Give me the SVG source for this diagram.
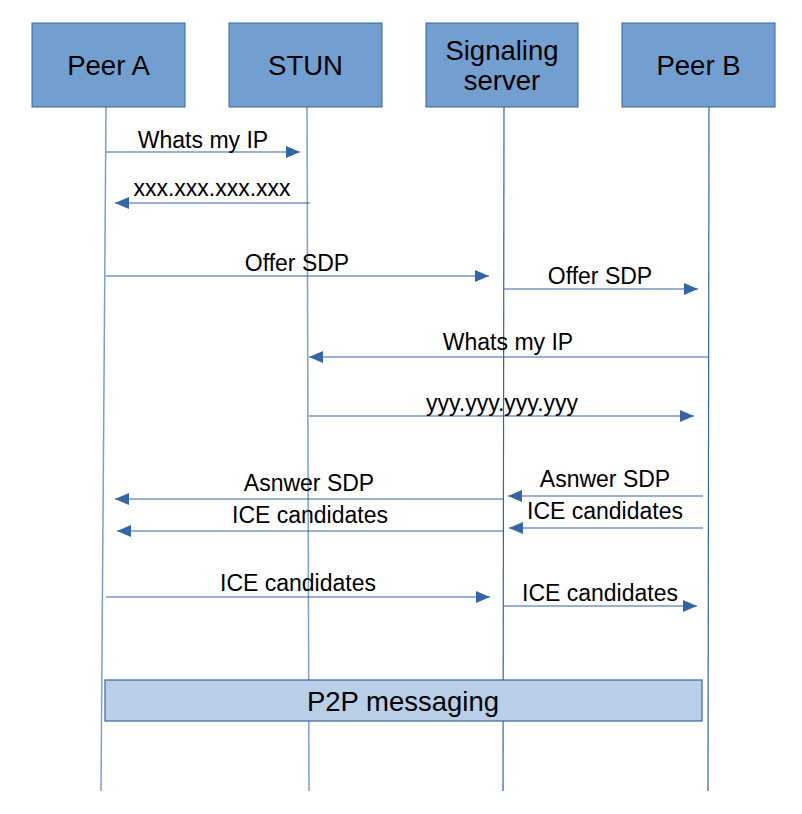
<svg xmlns="http://www.w3.org/2000/svg" width="802" height="814" viewBox="0 0 802 814">
<defs>
<marker id="ah" markerUnits="userSpaceOnUse" markerWidth="14" markerHeight="12" refX="14" refY="6" orient="auto">
<path d="M0,0 L14,6 L0,12 z" fill="#3465a4"/>
</marker>
<style>
.box{fill:#729fcf;stroke:#3465a4;stroke-width:1}
.life{stroke:#3465a4;stroke-width:1.2;fill:none}
.lifel{stroke:#7b9fd0;stroke-width:1.5;fill:none}
.msg{stroke:#3465a4;stroke-width:1.2;fill:none;marker-end:url(#ah)}
.t{font-family:"Liberation Sans",Arial,sans-serif;font-size:27.5px;fill:#000;text-anchor:middle}
.l{font-family:"Liberation Sans",Arial,sans-serif;font-size:23px;fill:#000;text-anchor:middle}
</style>
</defs>
<rect width="802" height="814" fill="#fff"/>
<g id="lifelines">
<line class="lifel" x1="106" y1="107" x2="101" y2="791"/>
<line class="lifel" x1="307" y1="107" x2="309" y2="791"/>
<line class="life" x1="504" y1="107" x2="503" y2="791"/>
<line class="life" x1="709" y1="107" x2="708" y2="791"/>
</g>
<g id="peerA"><rect class="box" x="32" y="23" width="153" height="84"/><text class="t" x="108.5" y="75">Peer A</text></g>
<g id="stun"><rect class="box" x="229" y="23" width="153" height="84"/><text class="t" x="305.5" y="75">STUN</text></g>
<g id="signaling"><rect class="box" x="426" y="23" width="152" height="84"/><text class="t" x="502" y="60">Signaling</text><text class="t" x="502" y="90">server</text></g>
<g id="peerB"><rect class="box" x="622" y="23" width="153" height="84"/><text class="t" x="698.5" y="75">Peer B</text></g>
<g id="p2p"><rect x="105" y="680" width="597" height="41" fill="#b8cfe7" stroke="#3465a4" stroke-width="1.2"/><text class="t" x="403" y="711">P2P messaging</text></g>
<g id="connectors">
<line class="msg" x1="106" y1="152" x2="300" y2="152"/>
<line class="msg" x1="310" y1="203" x2="115" y2="203"/>
<line class="msg" x1="106" y1="276" x2="489" y2="276"/>
<line class="msg" x1="504" y1="289" x2="698" y2="289"/>
<line class="msg" x1="709" y1="357" x2="309" y2="357"/>
<line class="msg" x1="309" y1="416" x2="694" y2="416"/>
<line class="msg" x1="703" y1="496" x2="508" y2="496"/>
<line class="msg" x1="503" y1="499" x2="115" y2="499"/>
<line class="msg" x1="703" y1="528" x2="509" y2="528"/>
<line class="msg" x1="503" y1="531" x2="117" y2="531"/>
<line class="msg" x1="106" y1="597" x2="490" y2="597"/>
<line class="msg" x1="503" y1="606" x2="697" y2="606"/>
</g>
<g id="labels">
<text class="l" x="203" y="148">Whats my IP</text>
<text class="l" x="212" y="196">xxx.xxx.xxx.xxx</text>
<text class="l" x="297" y="271">Offer SDP</text>
<text class="l" x="600" y="284">Offer SDP</text>
<text class="l" x="508" y="350">Whats my IP</text>
<text class="l" x="502" y="411">yyy.yyy.yyy.yyy</text>
<text class="l" x="605" y="487">Asnwer SDP</text>
<text class="l" x="309" y="491">Asnwer SDP</text>
<text class="l" x="605" y="519">ICE candidates</text>
<text class="l" x="310" y="523">ICE candidates</text>
<text class="l" x="298" y="591">ICE candidates</text>
<text class="l" x="600" y="601">ICE candidates</text>
</g>
</svg>
